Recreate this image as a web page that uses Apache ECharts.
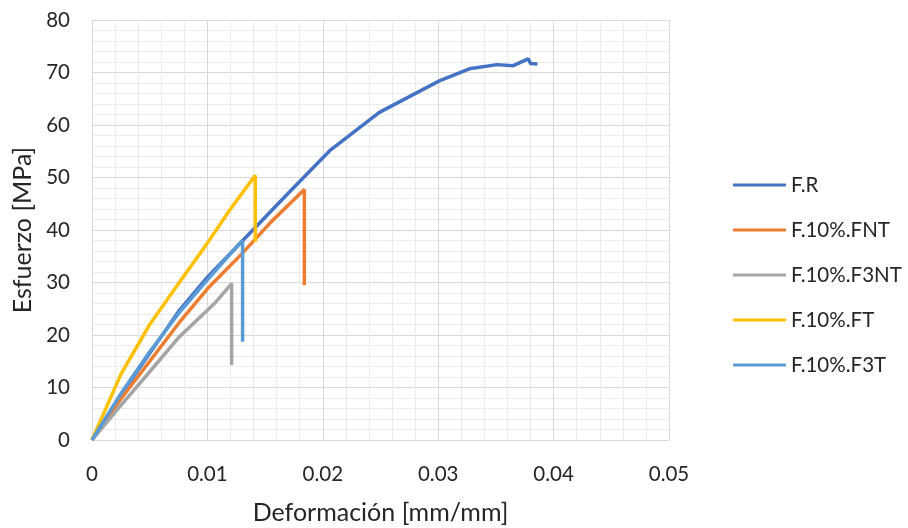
<!DOCTYPE html>
<html><head><meta charset="utf-8">
<script src="https://cdn.jsdelivr.net/npm/echarts@6/dist/echarts.min.js"></script>
<style>html,body{margin:0;padding:0;background:#fff}#c{width:908px;height:528px}</style>
</head><body><div id="c"></div>
<script>
const seriesNames = ['F.R', 'F.10%.FNT', 'F.10%.F3NT', 'F.10%.FT', 'F.10%.F3T'];
const frX = [0, 0.0025, 0.005, 0.0075, 0.01, 0.0139, 0.017, 0.0206, 0.0249, 0.0275, 0.0301, 0.0327, 0.0351, 0.0365, 0.0378, 0.0380, 0.0386];
const frY = [0, 8.5, 16.5, 24.5, 31, 39.9, 47, 55.1, 62.4, 65.4, 68.4, 70.7, 71.5, 71.3, 72.6, 71.7, 71.6];
const fntX = [0, 0.0025, 0.005, 0.0075, 0.01, 0.013, 0.0155, 0.0184, 0.0184];
const fntY = [0, 7.8, 15, 22.2, 28.8, 35.5, 41.5, 47.7, 29.5];
const f3ntX = [0, 0.0025, 0.005, 0.0075, 0.0107, 0.0121, 0.0121];
const f3ntY = [0, 6.6, 13, 19.5, 26.2, 29.8, 14.3];
const ftX = [0, 0.0025, 0.005, 0.0075, 0.01, 0.012, 0.01415, 0.01415];
const ftY = [0, 12.5, 22, 29.8, 37.5, 44, 50.4, 37.7];
const f3tX = [0, 0.0025, 0.005, 0.0075, 0.01, 0.0118, 0.01305, 0.01305];
const f3tY = [0, 8.8, 16.8, 24.1, 30.5, 35, 38, 18.7];
const colors = ['#4472C4', '#ED7D31', '#A5A5A5', '#FFC000', '#5B9BD5'];
const xs = [frX, fntX, f3ntX, ftX, f3tX];
const ys = [frY, fntY, f3ntY, ftY, f3tY];

const font = 'Lato, "Open Sans", sans-serif';
const chart = echarts.init(document.getElementById('c'));
chart.setOption({
  animation: false,
  color: colors,
  grid: {left: 92, right: 239, top: 20, bottom: 88, outerBoundsMode: 'none', containLabel: false},
  legend: {
    orient: 'vertical', left: 733, top: 174.5, itemGap: 24, padding: 0,
    itemWidth: 53, itemHeight: 3, icon: 'roundRect',
    textStyle: {fontFamily: font, fontSize: 20.5, lineHeight: 21, color: '#262626'},
    data: seriesNames
  },
  xAxis: {
    type: 'value', min: 0, max: 0.05, interval: 0.01,
    name: 'Deformación [mm/mm]', nameLocation: 'middle', nameGap: 60,
    nameTextStyle: {fontFamily: font, fontSize: 25, color: '#262626'},
    axisLabel: {fontFamily: font, fontSize: 20.5, color: '#262626', margin: 24,
      formatter: v => v === 0 ? '0' : String(+v.toFixed(2))},
    axisLine: {show: true, lineStyle: {color: '#d9d9d9', width: 1}},
    axisTick: {show: false},
    splitLine: {show: true, lineStyle: {color: '#d9d9d9', width: 1}},
    minorTick: {show: false, splitNumber: 5},
    minorSplitLine: {show: true, lineStyle: {color: '#ebebeb', width: 1}}
  },
  yAxis: {
    type: 'value', min: 0, max: 80, interval: 10,
    name: 'Esfuerzo [MPa]', nameLocation: 'middle', nameGap: 57, nameRotate: 90,
    nameTextStyle: {fontFamily: font, fontSize: 25, color: '#262626'},
    axisLabel: {fontFamily: font, fontSize: 20.5, color: '#262626', margin: 22},
    axisLine: {show: true, lineStyle: {color: '#d9d9d9', width: 1}},
    axisTick: {show: false},
    splitLine: {show: true, lineStyle: {color: '#d9d9d9', width: 1}},
    minorTick: {show: false, splitNumber: 5},
    minorSplitLine: {show: true, lineStyle: {color: '#ebebeb', width: 1}}
  },
  series: seriesNames.map((n, i) => ({
    name: n, type: 'line', showSymbol: false, symbol: 'none',
    lineStyle: {width: 3.5, color: colors[i]},
    data: xs[i].map((x, j) => [x, ys[i][j]])
  }))
});
</script></body></html>
